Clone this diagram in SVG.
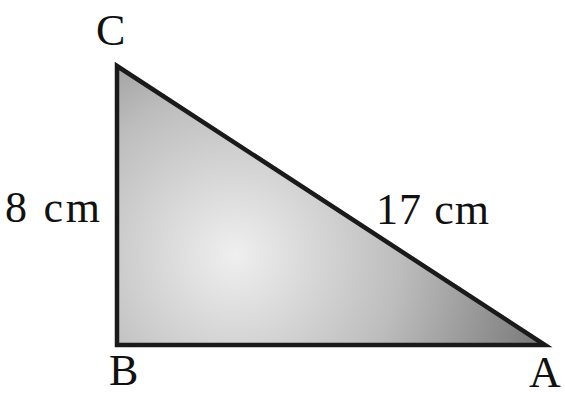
<svg xmlns="http://www.w3.org/2000/svg" width="565" height="400" viewBox="0 0 565 400">
<style>
.lbl{font-family:"Liberation Serif","Times New Roman",serif;font-size:44px;fill:#111}
</style>
<defs>
<radialGradient id="g" gradientUnits="userSpaceOnUse" cx="235" cy="255" r="330">
<stop offset="0" stop-color="#efefef"/>
<stop offset="0.5" stop-color="#bdbdbd"/>
<stop offset="1" stop-color="#747474"/>
</radialGradient>
</defs>
<rect width="565" height="400" fill="#fff"/>
<g id="triangle">
<polygon points="117,66 117,345 545,345" fill="url(#g)" stroke="#1a1a1a" stroke-width="4.5" stroke-linejoin="miter"/>
</g>
<g id="labels">
<text class="lbl" x="96" y="45">C</text>
<text class="lbl" x="5" y="222" textLength="95" lengthAdjust="spacing">8 cm</text>
<text class="lbl" x="376" y="224" textLength="113" lengthAdjust="spacing">17 cm</text>
<text class="lbl" x="109" y="385">B</text>
<text class="lbl" x="529" y="387">A</text>
</g>
</svg>
